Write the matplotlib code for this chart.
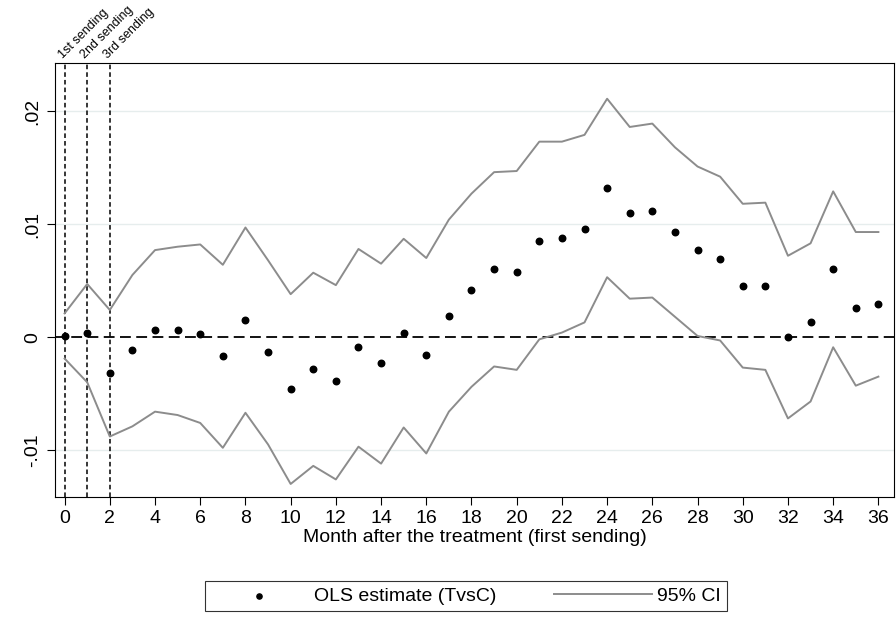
import matplotlib
matplotlib.use("Agg")
import matplotlib.pyplot as plt

months = list(range(37))
est = [0.0001, 0.0004, -0.0032, -0.0011, 0.0006, 0.0006, 0.0003, -0.0017, 0.0015, -0.0013,
       -0.0046, -0.0028, -0.0039, -0.0009, -0.0023, 0.0004, -0.0016, 0.0019, 0.0042, 0.0060,
       0.0058, 0.0085, 0.0088, 0.0096, 0.0132, 0.0110, 0.0112, 0.0093, 0.0077, 0.0069,
       0.0045, 0.0045, 0.0000, 0.0013, 0.0060, 0.0026, 0.0029]
upper = [0.0021, 0.0047, 0.0024, 0.0055, 0.0077, 0.0080, 0.0082, 0.0064, 0.0097, 0.0068,
         0.0038, 0.0057, 0.0046, 0.0078, 0.0065, 0.0087, 0.0070, 0.0104, 0.0127, 0.0146,
         0.0147, 0.0173, 0.0173, 0.0179, 0.0211, 0.0186, 0.0189, 0.0168, 0.0151, 0.0142,
         0.0118, 0.0119, 0.0072, 0.0083, 0.0129, 0.0093, 0.0093]
lower = [-0.0019, -0.0040, -0.0088, -0.0079, -0.0066, -0.0069, -0.0076, -0.0098, -0.0067, -0.0095,
         -0.0130, -0.0114, -0.0126, -0.0097, -0.0112, -0.0080, -0.0103, -0.0066, -0.0044, -0.0026,
         -0.0029, -0.0002, 0.0004, 0.0013, 0.0053, 0.0034, 0.0035, 0.0018, 0.0001, -0.0003,
         -0.0027, -0.0029, -0.0072, -0.0057, -0.0009, -0.0043, -0.0035]
sendings = [0, 1, 2]
sending_labels = ["1st sending", "2nd sending", "3rd sending"]
xticks = list(range(0, 37, 2))
yticks = [-0.01, 0, 0.01, 0.02]
ytick_labels = ["-.01", "0", ".01", ".02"]

plt.rcParams["font.family"] = ["Liberation Sans", "DejaVu Sans"]
fig = plt.figure(figsize=(8.96, 6.19), dpi=100)
ax = fig.add_axes([0.061, 0.197, 0.937, 0.701])

for y in yticks:
    if y != 0:
        ax.axhline(y, color="#e6eded", lw=1, zorder=0)
ax.axhline(0, color="black", lw=1.3, ls=(0, (6, 3)), zorder=1)
for s in sendings:
    ax.axvline(s, color="black", lw=1.1, ls=(0, (3, 2)), zorder=1)

ln, = ax.plot(months, upper, color="#8c8c8c", lw=1.4, label="95% CI")
ax.plot(months, lower, color="#8c8c8c", lw=1.4)
pts = ax.scatter(months, est, s=22, color="black", zorder=3, label="OLS estimate (TvsC)")

ax.set_xlim(-0.44, 36.7)
ax.set_ylim(-0.01416, 0.02425)
ax.set_xticks(xticks)
ax.set_xticklabels([str(m) for m in xticks], fontsize=14)
ax.set_yticks(yticks)
ax.set_yticklabels(ytick_labels, rotation=90, va="center", fontsize=14)
ax.tick_params(length=6)
ax.set_xlabel("Month after the treatment (first sending)", fontsize=14, labelpad=1)

for s, lab in zip(sendings, sending_labels):
    ax.text(s, 0.02445, lab, rotation=45, ha="left", va="bottom", fontsize=9,
            rotation_mode="anchor")

leg = fig.legend([pts, ln], ["OLS estimate (TvsC)", "95% CI"], loc="lower center",
                 bbox_to_anchor=(0.52, -0.002), ncol=2, fontsize=14, frameon=True,
                 fancybox=False, edgecolor="black", columnspacing=3, handlelength=5,
                 markerscale=0.8, borderpad=0.3, handletextpad=0.3)
leg.get_frame().set_linewidth(0.8)

fig.savefig("out.png", dpi=100)
